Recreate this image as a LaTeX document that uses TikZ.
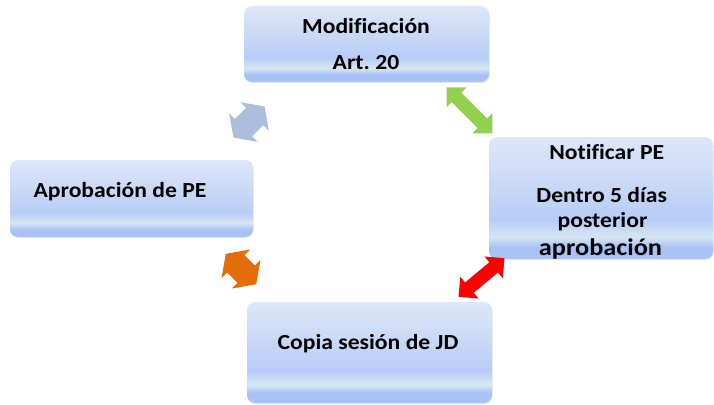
\documentclass[tikz,border=0pt]{standalone}
\usepackage{fontspec}
\setmainfont{Carlito}[FakeStretch=1.1,Ligatures={NoCommon}]
\usetikzlibrary{shapes.arrows,shadows}
\definecolor{gT}{HTML}{DDE7FA}
\definecolor{gM}{HTML}{C9D9F5}
\definecolor{gS}{HTML}{B7CCF8}
\definecolor{gL}{HTML}{D6E7F1}
\definecolor{gB}{HTML}{A8C2F6}
\definecolor{arrgray}{HTML}{ADBEDC}
\definecolor{arrgreen}{HTML}{92D050}
\definecolor{arrred}{HTML}{FF0000}
\definecolor{arrorange}{HTML}{E46C0A}
\pgfdeclareverticalshading{boxgrad}{100bp}{color(0bp)=(gB); color(25bp)=(gB); color(30bp)=(gB); color(34bp)=(gL); color(41bp)=(gS); color(56bp)=(gM); color(75bp)=(gT); color(100bp)=(gT)}
\tikzset{
  box/.style={rectangle, rounded corners=8pt, shading=boxgrad, draw=none,
    drop shadow={opacity=0.15, shadow xshift=0.8pt, shadow yshift=-1.2pt}},
  txt/.style={font=\bfseries\fontsize{21.5}{25}\selectfont, inner sep=0pt, anchor=base},
  bigtxt/.style={font=\bfseries\fontsize{23.9}{28}\selectfont, inner sep=0pt, anchor=base},
  thinarr/.style={shape=double arrow, draw=none, inner xsep=0pt, inner ysep=6.5pt,
    double arrow head extend=7.5pt, double arrow tip angle=90},
  fatarr/.style={shape=double arrow, draw=none, inner xsep=0pt, inner ysep=12pt,
    double arrow head extend=8pt, double arrow tip angle=110}
}
\begin{document}
\begin{tikzpicture}[x=1pt,y=-1pt]
\useasboundingbox (0,0) rectangle (714,404);
% boxes
\node[box, minimum width=245pt, minimum height=76pt] (top) at (366.5,44) {};
\node[box, minimum width=224pt, minimum height=122pt] (right) at (601,198) {};
\node[box, minimum width=243pt, minimum height=77pt] (left) at (131.5,198.5) {};
\node[box, minimum width=245pt, minimum height=101pt] (bottom) at (369.5,352.5) {};
% texts
\node[txt] (m1) at (366,33.3) {Modificación};
\node[txt] (m2) at (366,69) {Art.\ 20};
\node[txt] (n1) at (606.7,159.3) {Notificar PE};
\node[txt] (n2) at (601.7,202.7) {Dentro 5 días};
\node[txt] (n3) at (602.5,227) {posterior};
\node[bigtxt] (n4) at (600.5,255) {aprobación};
\node[txt] (a1) at (120,197.7) {Aprobación de PE};
\node[txt] (c1) at (368,349.3) {Copia sesión de JD};
% arrows
\node[fatarr, fill=arrgray, minimum height=44pt, rotate=45] (ag) at (249,122) {};
\node[thinarr, fill=arrgreen, minimum height=65pt, rotate=-45] (agr) at (469.5,110.3) {};
\node[thinarr, fill=arrred, minimum height=60pt, rotate=40] (ar) at (481.5,277.5) {};
\node[fatarr, fill=arrorange, minimum height=43pt, rotate=-45] (ao) at (241,269) {};
\end{tikzpicture}
\end{document}
